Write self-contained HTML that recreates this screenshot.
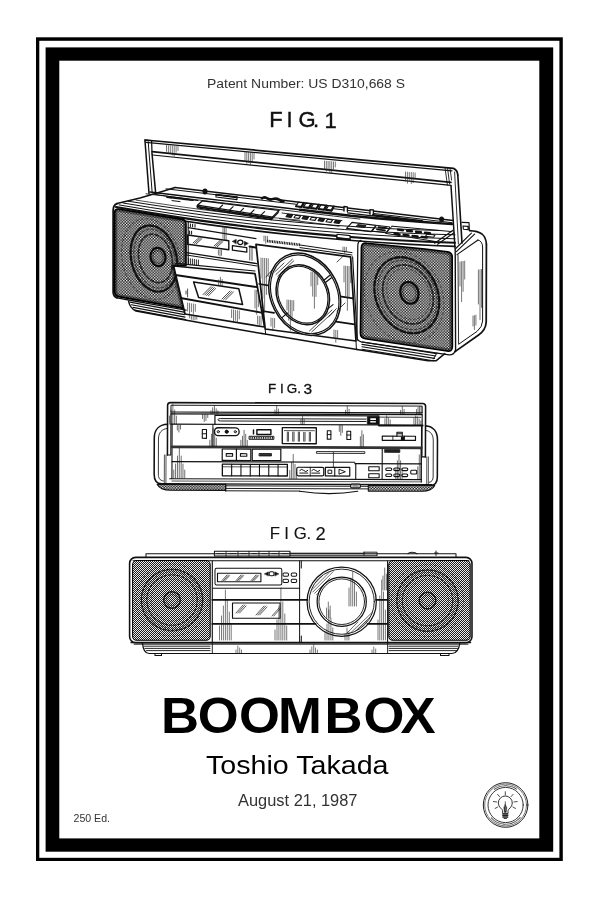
<!DOCTYPE html>
<html lang="en">
<head>
<meta charset="utf-8">
<title>Boombox Patent Print</title>
<style>
html,body{margin:0;padding:0;background:#fff;}
body{width:600px;height:900px;overflow:hidden;font-family:"Liberation Sans",sans-serif;}
svg{display:block;will-change:transform;}
.ln{fill:none;stroke:#111;stroke-width:1;stroke-linecap:round;stroke-linejoin:round;}
.t{font-family:"Liberation Sans",sans-serif;}
</style>
</head>
<body>
<svg width="600" height="900" viewBox="0 0 600 900">
<defs>
<pattern id="grille" width="2.8" height="2.8" patternUnits="userSpaceOnUse">
<rect width="2.8" height="2.8" fill="#0c0c0c"/>
<rect x="0" y="0" width="1.34" height="1.34" fill="#fff"/><rect x="1.4" y="1.4" width="1.34" height="1.34" fill="#fff"/>
</pattern>
<pattern id="grille2" width="2" height="2" patternUnits="userSpaceOnUse">
<rect width="2" height="2" fill="#1c1c1c"/>
<rect x="0" y="0" width="1" height="1" fill="#ececec"/><rect x="1" y="1" width="1" height="1" fill="#ececec"/>
</pattern>
<pattern id="hatch" width="2" height="2" patternUnits="userSpaceOnUse">
<rect width="2" height="2" fill="#fff"/><path d="M0 2L2 0" stroke="#111" stroke-width="0.9"/>
</pattern>
</defs>
<g id="frame">
<rect x="0" y="0" width="600" height="900" fill="#fff"/>
<rect x="36" y="37.3" width="526.8" height="823.7" fill="#000"/>
<rect x="39.3" y="40.8" width="520.1" height="817" fill="#fff"/>
<rect x="45.6" y="47.4" width="507.6" height="804.3" fill="#000"/>
<rect x="59.3" y="60.7" width="480" height="777.7" fill="#fff"/>
</g>
<defs><clipPath id="clipL"><path d="M118.4 209.0Q114.6 208.8 114.6 213L114.6 291.4Q114.8 295.8 118.6 296.6L183.6 308.4L173.6 266L186 265.6L186 224Q186 220.4 182.6 219.4L165.0 216.7L150.0 214.3L135.0 211.8Z"/></clipPath><clipPath id="clipR"><path d="M367 243.2Q361.4 242.4 361.4 247.6L360.4 333Q360.4 338 365.4 338.8L447 351Q452.4 351.8 452.4 346.6L452.2 257Q452.2 252.6 447.4 251.8L425 249Z"/></clipPath></defs>
<g id="fig1" class="ln">
<path d="M145.0 141.0L149.0 193.4" stroke-width="1.50" />
<path d="M148.2 141.6L152.2 193.0" stroke-width="1.00" />
<path d="M152.0 153.6L155.6 192.4" stroke-width="1.50" />
<path d="M145.0 140.0L453.5 168.4Q457.4 170 457.8 175" stroke-width="1.75" />
<path d="M146.0 142.4L452.0 170.8" stroke-width="1.25" />
<path d="M152.0 151.6L451.0 182.4" stroke-width="1.62" />
<path d="M152.6 155.0L451.0 185.4" stroke-width="1.25" />
<path d="M145.0 141.0L145.4 140.0L151.6 140.6L152.0 153.0" stroke-width="1.25" />
<path d="M457.8 175.0L462.0 243.0" stroke-width="1.62" />
<path d="M451.0 185.8L455.0 248.0" stroke-width="1.50" />
<path d="M454.6 172.0L458.4 244.0" stroke-width="0.88" />
<path d="M445.0 167.6L447.4 185.0M447.5 167.8L449.6 184.0M450.0 168.1L451.6 180.0" stroke-width="0.88" />
<path d="M166.5 145.4V151.4M168.4 145.6V153.6M170.3 145.8V152.8M172.3 146.0V155.0M174.2 146.1V156.1M176.1 146.3V152.3M178.0 146.5V150.5" stroke-width="0.62" stroke="#222"/>
<path d="M245.0 152.2V161.2M246.8 152.4V163.4M248.6 152.5V162.5M250.4 152.7V164.7M252.2 152.8V161.8M254.0 153.0V159.0" stroke-width="0.62" stroke="#222"/>
<path d="M324.5 161.1V169.1M326.3 161.2V171.2M328.1 161.4V170.4M329.9 161.5V173.5M331.7 161.7V172.7M333.5 161.9V168.9M335.3 162.0V167.0" stroke-width="0.62" stroke="#222"/>
<path d="M405.5 172.0V181.0M407.4 172.2V183.2M409.3 172.4V180.4M411.3 172.5V183.5M413.2 172.7V182.7M415.1 172.9V178.9" stroke-width="0.62" stroke="#222"/>
<path d="M117.0 203.6L140.0 198.0L163.0 191.2L175.0 187.5" stroke-width="1.50" />
<path d="M175.0 187.5L244.5 195.7L314.0 204.0L383.5 212.2L453.0 220.4" stroke-width="1.50" />
<path d="M166.0 188.8L237.5 197.3L309.0 205.8L380.5 214.3L452.0 222.7" stroke-width="1.00" />
<path d="M150.0 192.0L175.0 195.0L200.0 198.0L225.0 200.9L250.0 203.9L275.0 206.8L300.0 209.8" stroke-width="1.38" />
<path d="M300.0 209.8L325.3 212.8L350.7 215.8L376.0 218.2L401.3 220.2L426.7 222.2L452.0 224.1" stroke-width="2.38" />
<path d="M146.0 193.8L172.8 196.9L199.5 200.1L226.2 203.3L253.0 206.4L279.8 209.6L306.5 212.8L333.2 216.0L360.0 219.1" stroke-width="0.88" />
<path d="M117 203.6Q113.2 205 113.2 210V292Q113.2 296.6 117 297.8" stroke-width="1.88" />
<path d="M116.0 207.0L144.2 211.9L172.5 216.4L200.8 220.6L229.0 224.4L257.2 227.9L285.5 231.1L313.8 233.9L342.0 236.4L370.2 238.5L398.5 240.3L426.8 241.7L455.0 242.8" stroke-width="2.12" />
<path d="M186.0 221.3L208.4 224.6L230.8 227.6L253.2 230.5L275.7 233.1L298.1 235.5L320.5 237.7L342.9 239.7L365.3 241.5L387.8 243.0L410.2 244.4L432.6 245.5L455.0 246.4" stroke-width="1.62" />
<path d="M119.0 204.9L147.0 209.6L175.0 214.0L203.0 218.0L231.0 221.6L259.0 225.0L287.0 228.0L315.0 230.6L343.0 232.9L371.0 234.9L399.0 236.5L427.0 237.8L455.0 238.8" stroke-width="1.00" />
<path d="M123.0 203.0L150.7 207.5L178.3 211.6L206.0 215.4L233.7 218.9L261.3 222.1L289.0 224.9L316.7 227.4L344.3 229.5L372.0 231.4L399.7 232.8L427.3 234.0L455.0 234.8" stroke-width="1.00" />
<path d="M128.0 201.2L154.0 205.2L180.0 209.0L206.0 212.5L232.0 215.6L258.0 218.5L284.0 221.1L310.0 223.4L336.0 225.4L362.0 227.1L388.0 228.6L414.0 229.7L440.0 230.5" stroke-width="1.00" />
<path d="M136.0 200.1L149.7 202.2L163.3 204.2L177.0 206.2L190.7 208.1L204.3 209.9L218.0 211.6L231.7 213.2L245.3 214.8L259.0 216.2L272.7 217.6L286.3 218.9L300.0 220.2" stroke-width="0.75" />
<path d="M155.0 194.4L198.0 200.6" stroke-width="1.00" />
<path d="M434.6 243.2L453.0 230.2M437.6 244.2L454.0 232.8" stroke-width="1.12" />
<path d="M462.0 222.4L469.0 222.6L469.4 230.0M463.0 226.0L468.0 226.4L468.2 229.6L463.4 229.2Z" stroke-width="1.12" />
<path d="M469.4 230.6Q478 231 482 234Q486 237.4 486.4 244" stroke-width="1.62" />
<path d="M486.4 244L486.2 322Q485.8 330 478.6 335L455.0 351.6" stroke-width="1.75" />
<path d="M478 240Q482.4 241 482.6 247L482.6 321Q482.4 327 477 331.4L459.0 344.0" stroke-width="1.00" />
<path d="M455.2 249.0L471.4 233.2M456.4 251.6L474.6 234.2M457.0 254.6L478.0 240.0" stroke-width="1.12" />
<path d="M455.2 249.0L455.6 351.6" stroke-width="1.38" />
<path d="M458.0 255.0L458.6 344.0" stroke-width="0.88" />
<path d="M460.0 262.0V286.0M461.6 261.7V301.7M463.1 261.4V291.4M464.7 261.1V279.1" stroke-width="0.62" stroke="#222"/>
<path d="M478.4 270.0V304.0M480.0 269.7V319.7M481.5 269.4V307.4" stroke-width="0.62" stroke="#222"/>
<path d="M473.0 316.0V326.0M474.4 315.6V329.6M475.9 315.1V325.1" stroke-width="0.62" stroke="#222"/>
<path d="M167.0 197.2L193.0 200.2" stroke-width="1.75" stroke-dasharray="5 1.2 9 1.2"/>
<path d="M172.0 200.6L180.0 201.6" stroke-width="1.00" />
<ellipse cx="205" cy="191.4" rx="1.9" ry="2.4" transform="rotate(0 205 191.4)" stroke-width="1.25" fill="#111"/>
<path d="M216.0 194.6L237.0 197.2L237.0 199.6L216.0 197.0Z" stroke-width="1.12" />
<path d="M216.0 194.6L237.0 197.2" stroke-width="1.88" />
<path d="M262 198.4Q264 196.2 267 198.2Q270 200.6 273 199Q276 197.6 279 199.6Q282 201.6 283.4 201.6" stroke-width="2.50" />
<path d="M202.5 200.8L279.0 210.4L272.6 217.0L197.4 205.2Z" stroke-width="1.25" />
<path d="M197.4 205.2L197.4 207.8L271.4 219.6L272.6 217.0" stroke-width="1.25" />
<path d="M271.4 219.6L278.0 212.8L279.0 210.4" stroke-width="1.12" />
<path d="M197.4 206.6L272.0 218.4" stroke-width="1.75" />
<path d="M222.6 205.0L219.0 208.6L219.0 211.2" stroke-width="1.12" />
<path d="M233.1 206.6L229.5 210.2L229.5 212.8" stroke-width="1.12" />
<path d="M243.6 208.3L240.0 211.9L240.0 214.5" stroke-width="1.12" />
<path d="M254.1 209.9L250.5 213.5L250.5 216.1" stroke-width="1.12" />
<path d="M264.6 211.6L261.0 215.2L261.0 217.8" stroke-width="1.12" />
<path d="M298.4 202.2L303.8 202.9L301.4 207.0L296.0 206.3Z" stroke-width="1.12" fill="#fff"/>
<path d="M296.0 206.3L301.4 207.0L303.8 202.9" stroke-width="2.12" />
<path d="M305.9 203.1L311.3 203.8L308.9 207.9L303.5 207.2Z" stroke-width="1.12" fill="#fff"/>
<path d="M303.5 207.2L308.9 207.9L311.3 203.8" stroke-width="2.12" />
<path d="M313.4 204.0L318.8 204.7L316.4 208.8L311.0 208.1Z" stroke-width="1.12" fill="#fff"/>
<path d="M311.0 208.1L316.4 208.8L318.8 204.7" stroke-width="2.12" />
<path d="M320.9 204.9L326.3 205.6L323.9 209.7L318.5 209.0Z" stroke-width="1.12" fill="#fff"/>
<path d="M318.5 209.0L323.9 209.7L326.3 205.6" stroke-width="2.12" />
<path d="M328.4 205.8L333.8 206.5L331.4 210.6L326.0 209.9Z" stroke-width="1.12" fill="#fff"/>
<path d="M326.0 209.9L331.4 210.6L333.8 206.5" stroke-width="2.12" />
<path d="M287.6 214.2L292.6 214.9L291.0 217.4L286.0 216.7Z" stroke-width="1.12" fill="#222"/>
<path d="M295.6 215.2L300.6 215.9L299.0 218.4L294.0 217.7Z" stroke-width="1.12" />
<path d="M303.6 216.2L308.6 216.9L307.0 219.4L302.0 218.7Z" stroke-width="1.12" fill="#222"/>
<path d="M311.6 217.2L316.6 217.9L315.0 220.4L310.0 219.7Z" stroke-width="1.12" />
<path d="M319.6 218.2L324.6 218.9L323.0 221.4L318.0 220.7Z" stroke-width="1.12" fill="#222"/>
<path d="M327.6 219.2L332.6 219.9L331.0 222.4L326.0 221.7Z" stroke-width="1.12" />
<path d="M335.6 220.2L340.6 220.9L339.0 223.4L334.0 222.7Z" stroke-width="1.12" fill="#222"/>
<path d="M282.0 213.0L342.0 220.6M279.4 218.6L339.0 226.2" stroke-width="0.88" />
<path d="M344.0 211.1L344.0 206.5L347.4 206.9L347.4 211.5" stroke-width="1.38" fill="#fff"/>
<path d="M370.0 214.2L370.0 209.6L373.4 210.0L373.4 214.6" stroke-width="1.38" fill="#fff"/>
<path d="M373.0 215.2L422.0 221.2" stroke-width="2.50" />
<path d="M347.6 212.9L372.0 215.8" stroke-width="1.25" />
<ellipse cx="441.6" cy="219.2" rx="1.8" ry="2" transform="rotate(0 441.6 219.2)" stroke-width="1.25" fill="#111"/>
<path d="M337.0 234.2L350.0 235.6L350.0 239.4L337.0 238.0Z" stroke-width="1.12" fill="#fff"/>
<path d="M337.0 238.0L350.0 239.4" stroke-width="2.00" />
<path d="M352.0 222.4L376.0 225.4L371.0 231.6L346.6 228.4Z" stroke-width="1.12" />
<path d="M358.0 224.6L366.0 225.6L364.4 227.6L356.4 226.6Z" stroke-width="0.88" fill="#222"/>
<path d="M377.0 225.4L390.0 227.0L386.0 232.8L372.6 231.2Z" stroke-width="1.00" />
<path d="M378.6 227.2L386.6 228.2M377.0 229.4L385.0 230.4" stroke-width="1.75" />
<path d="M392.0 226.2L452.0 231.6M386.0 233.4L436.0 241.6" stroke-width="1.00" />
<path d="M392.0 226.2L386.0 233.4" stroke-width="1.00" />
<path d="M398.0 229.6L403.0 230.2" stroke-width="2.38" stroke="#111"/>
<path d="M407.0 230.7L412.0 231.2" stroke-width="2.38" stroke="#111"/>
<path d="M416.0 231.7L421.0 232.3" stroke-width="2.38" stroke="#111"/>
<path d="M425.0 232.8L430.0 233.3" stroke-width="2.38" stroke="#111"/>
<path d="M394.6 233.8L399.6 234.4" stroke-width="2.38" stroke="#111"/>
<path d="M403.6 234.8L408.6 235.4" stroke-width="2.38" stroke="#111"/>
<path d="M412.6 235.9L417.6 236.5" stroke-width="2.38" stroke="#111"/>
<path d="M421.6 236.9L426.6 237.5" stroke-width="2.38" stroke="#111"/>
<path d="M427.0 234.0L435.0 235.0L433.6 237.2L425.6 236.2Z" stroke-width="1.12" />
<path d="M118.4 209.0Q114.6 208.8 114.6 213L114.6 291.4Q114.8 295.8 118.6 296.6L183.6 308.4L173.6 266L186 265.6L186 224Q186 220.4 182.6 219.4L165.0 216.7L150.0 214.3L135.0 211.8Z" fill="url(#grille)" stroke="none"/>
<g clip-path="url(#clipL)">
<path d="M118.4 209.0Q114.6 208.8 114.6 213L114.6 291.4Q114.8 295.8 118.6 296.6L183.6 308.4L173.6 266L186 265.6L186 224Q186 220.4 182.6 219.4L165.0 216.7L150.0 214.3L135.0 211.8Z" stroke="#000" stroke-opacity="0.4" stroke-width="5.50"/>
<ellipse cx="154" cy="258.6" rx="22.6" ry="33.6" transform="rotate(-14 154 258.6)" stroke-width="2.38" stroke="#000" stroke-dasharray="4 2.2" stroke-opacity="0.85"/>
<ellipse cx="154.6" cy="258.6" rx="20" ry="30" transform="rotate(-14 154.6 258.6)" stroke-width="1.25" stroke="#000" stroke-dasharray="2.5 2.2" stroke-opacity="0.5"/>
<ellipse cx="155.4" cy="258.4" rx="16.4" ry="24.6" transform="rotate(-14 155.4 258.4)" stroke-width="1.75" stroke="#000" stroke-dasharray="3.5 2.2" stroke-opacity="0.7"/>
<ellipse cx="151" cy="259" rx="28.6" ry="41" transform="rotate(-14 151 259)" stroke-width="1.25" stroke="#000" stroke-dasharray="2 3" stroke-opacity="0.4"/>
<ellipse cx="158" cy="257" rx="7.4" ry="9.2" transform="rotate(-10 158 257)" stroke-width="2.25" stroke="#000" stroke-opacity="0.9"/>
<ellipse cx="158" cy="257" rx="5" ry="6.4" transform="rotate(-10 158 257)" stroke-width="1.12" stroke="#000" stroke-dasharray="1.5 1.2" stroke-opacity="0.5"/>
</g>
<path d="M118.4 209.0Q114.6 208.8 114.6 213L114.6 291.4Q114.8 295.8 118.6 296.6L183.6 308.4L173.6 266L186 265.6L186 224Q186 220.4 182.6 219.4L165.0 216.7L150.0 214.3L135.0 211.8Z" stroke="#000" stroke-width="1.62"/>
<path d="M367 243.2Q361.4 242.4 361.4 247.6L360.4 333Q360.4 338 365.4 338.8L447 351Q452.4 351.8 452.4 346.6L452.2 257Q452.2 252.6 447.4 251.8L425 249Z" fill="url(#grille)" stroke="none"/>
<g clip-path="url(#clipR)">
<path d="M367 243.2Q361.4 242.4 361.4 247.6L360.4 333Q360.4 338 365.4 338.8L447 351Q452.4 351.8 452.4 346.6L452.2 257Q452.2 252.6 447.4 251.8L425 249Z" stroke="#000" stroke-opacity="0.4" stroke-width="6.00"/>
<ellipse cx="406.8" cy="295.2" rx="30.7" ry="39.4" transform="rotate(-25 406.8 295.2)" stroke-width="2.38" stroke="#000" stroke-dasharray="5 2.4" stroke-opacity="0.85"/>
<ellipse cx="407.4" cy="295" rx="28" ry="36" transform="rotate(-25 407.4 295)" stroke-width="1.25" stroke="#000" stroke-dasharray="2.5 2.2" stroke-opacity="0.5"/>
<ellipse cx="408" cy="294.4" rx="24" ry="30.6" transform="rotate(-25 408 294.4)" stroke-width="1.88" stroke="#000" stroke-dasharray="4 2.2" stroke-opacity="0.7"/>
<ellipse cx="408.4" cy="294" rx="20.6" ry="26.4" transform="rotate(-25 408.4 294)" stroke-width="1.12" stroke="#000" stroke-dasharray="2 2.6" stroke-opacity="0.4"/>
<ellipse cx="404" cy="297" rx="38" ry="47" transform="rotate(-25 404 297)" stroke-width="1.25" stroke="#000" stroke-dasharray="2 3.4" stroke-opacity="0.35"/>
<ellipse cx="409.4" cy="292.8" rx="9" ry="11" transform="rotate(-18 409.4 292.8)" stroke-width="2.38" stroke="#000" stroke-opacity="0.9"/>
<ellipse cx="409.4" cy="292.8" rx="6.4" ry="8" transform="rotate(-18 409.4 292.8)" stroke-width="1.12" stroke="#000" stroke-dasharray="1.5 1.2" stroke-opacity="0.5"/>
</g>
<path d="M367 243.2Q361.4 242.4 361.4 247.6L360.4 333Q360.4 338 365.4 338.8L447 351Q452.4 351.8 452.4 346.6L452.2 257Q452.2 252.6 447.4 251.8L425 249Z" stroke="#000" stroke-width="1.62"/>
<path d="M361 240.4Q357.8 241 357.8 246L356.8 336.6Q356.8 341 361.2 341.8L449 354.8Q454 355 455 351" stroke-width="1.25" />
<path d="M188.2 221.6L188.2 263.4" stroke-width="1.12" />
<path d="M188.2 227.6L256.0 238.6" stroke-width="1.12" />
<path d="M190.4 224.0L190.4 226.6M192.6 224.2L192.6 226.8M195.0 224.6L195.0 227.2M189.6 231.0L189.6 234.0M191.6 231.2L191.6 234.2" stroke-width="1.00" />
<path d="M187.6 235.0L228.8 240.8L228.8 249.8L187.6 244.2Z" stroke-width="1.38" />
<path d="M193.0 243.0L199.0 237.6M194.6 243.4L200.6 238.0M196.2 243.8L202.0 238.6M214.0 246.0L220.0 240.6M215.6 246.4L221.6 241.0M217.2 246.8L223.0 241.6" stroke-width="0.75" />
<path d="M232.6 241.2L236.2 239.4V243.4Z" stroke-width="0.62" fill="#111"/>
<path d="M248 243.2L244.4 241.4V245.4Z" stroke-width="0.62" fill="#111"/>
<ellipse cx="240.3" cy="242.3" rx="2.6" ry="2.2" transform="rotate(0 240.3 242.3)" stroke-width="1.25" />
<path d="M232.4 245.6L246.8 247.6L246.8 252.2L232.4 250.2Z" stroke-width="1.25" />
<path d="M249.6 246.6L255.6 247.4" stroke-width="2.00" />
<path d="M186.4 252.6L256.6 263.6" stroke-width="1.25" />
<path d="M186.4 255.0L257.0 266.0" stroke-width="1.00" />
<path d="M223.0 227.4V238.4M224.6 227.6V240.6M226.1 227.8V239.8" stroke-width="0.62" stroke="#222"/>
<path d="M218.4 250.0V255.0M220.0 250.2V256.2M221.5 250.4V255.4" stroke-width="0.62" stroke="#222"/>
<path d="M249.8 247.4L249.8 260.0M252.0 247.8L252.0 260.4" stroke-width="0.75" />
<path d="M188.4 258.4L188.4 264.0M190.4 258.8L190.4 264.4M192.4 259.0L192.4 264.6M194.4 259.4L194.4 265.0M196.4 259.8L196.4 265.4M198.4 260.0L198.4 265.6" stroke-width="0.88" />
<path d="M176.0 263.4L255.0 271.0" stroke-width="1.12" />
<path d="M173.6 266.0L255.0 273.6L264.6 327.0L185.0 314.0Z" stroke-width="1.75" fill="#fff"/>
<path d="M175.4 275.0L256.4 287.0" stroke-width="1.88" />
<path d="M193.6 282.0L238.8 288.8L242.6 304.6L198.6 297.6Z" stroke-width="1.50" />
<path d="M203.0 294.6L211.0 286.6M204.8 295.0L212.8 287.0M206.6 295.4L214.4 287.6M208.4 295.8L215.6 288.6M222.0 299.0L230.0 291.0M223.8 299.4L231.8 291.4M225.6 299.8L233.4 292.0" stroke-width="0.75" />
<path d="M180.6 298.0L261.4 312.6" stroke-width="1.88" />
<path d="M187.6 303.0V311.0M189.5 303.3V314.3M191.4 303.7V311.7M193.4 304.0V314.0M195.3 304.3V311.3" stroke-width="0.62" stroke="#222"/>
<path d="M189.6 315.0V318.0M191.4 315.3V319.3M193.2 315.6V319.6M195.0 315.9V319.9M196.8 316.2V319.2" stroke-width="0.62" stroke="#222"/>
<path d="M231.6 309.6V317.6M233.5 309.9V321.9M235.4 310.3V320.3M237.4 310.6V322.6M239.3 310.9V318.9" stroke-width="0.62" stroke="#222"/>
<path d="M218.6 285.0V280.0M220.4 285.3V277.3M222.2 285.5V279.5" stroke-width="0.62" stroke="#222"/>
<path d="M255.0 290.0V308.0M256.7 290.3V314.3M258.4 290.7V306.7" stroke-width="0.62" stroke="#222"/>
<path d="M257.6 316.0V324.0M259.3 316.3V326.3M261.0 316.7V324.7" stroke-width="0.62" stroke="#222"/>
<path d="M186.0 294.0L186.0 291.0M187.6 297.0L187.6 289.0" stroke-width="0.75" />
<path d="M256.0 244.4L350.6 256.8L356.0 341.0L265.2 329.0Z" stroke-width="1.75" fill="#fff"/>
<path d="M267.0 241.0L300.0 244.8" stroke-width="2.75" stroke-dasharray="1 0.7" stroke-linecap="butt"/>
<path d="M300.0 245.0L352.0 252.6M300.0 247.6L352.0 255.0" stroke-width="1.00" />
<path d="M352.6 256.8L357.4 340.0" stroke-width="1.12" />
<path d="M259.2 284.0L269.6 285.6M340.0 296.4L353.0 298.4" stroke-width="1.75" />
<path d="M262.4 311.0L274.0 312.8M336.0 321.6L354.6 324.4" stroke-width="1.75" />
<ellipse cx="304.7" cy="294.3" rx="33.9" ry="42.8" transform="rotate(-27 304.7 294.3)" stroke-width="1.50" fill="#fff"/>
<ellipse cx="304.7" cy="294.3" rx="32.2" ry="41" transform="rotate(-27 304.7 294.3)" stroke-width="1.12" />
<ellipse cx="302.8" cy="294.7" rx="25.5" ry="31" transform="rotate(-27 302.8 294.7)" stroke-width="1.50" />
<ellipse cx="302.8" cy="294.7" rx="23.9" ry="29.4" transform="rotate(-27 302.8 294.7)" stroke-width="1.12" />
<path d="M276.0 274.4L292.4 259.2M277.8 276.0L293.8 260.8M279.4 277.6L290.0 267.6M274.6 272.0L284.0 263.0M309.4 331.0L332.0 310.0M311.6 332.0L334.0 311.4M328.6 317.0L336.4 308.6M318.0 321.0L327.0 312.6" stroke-width="0.75" />
<path d="M323.6 280.4L329.6 275.6M325.4 282.6L331.4 277.8" stroke-width="1.25" />
<path d="M282.0 317.6L287.4 313.0M327.0 309.6L333.0 304.6" stroke-width="1.12" />
<path d="M337.0 262.0L344.0 255.4M337.0 311.0L345.0 303.0M266.0 277.0L272.0 270.0" stroke-width="0.75" />
<path d="M261.0 258.0V278.0M262.8 258.2V298.2M264.6 258.4V312.4M266.4 258.5V294.5M268.2 258.7V276.7" stroke-width="0.62" stroke="#222"/>
<path d="M344.0 266.0V282.0M345.7 266.2V296.2M347.4 266.3V310.3M349.0 266.5V296.5M350.7 266.7V282.7" stroke-width="0.62" stroke="#222"/>
<path d="M311.0 272.0V286.0M312.7 272.2V296.2M314.4 272.3V308.3M316.0 272.5V296.5M317.7 272.7V284.7" stroke-width="0.62" stroke="#222"/>
<path d="M287.0 300.0V310.0M288.7 300.2V320.2M290.4 300.3V330.3M292.0 300.5V320.5M293.7 300.7V310.7" stroke-width="0.62" stroke="#222"/>
<path d="M271.0 318.0V326.0M272.8 318.3V330.3M274.6 318.5V327.5" stroke-width="0.62" stroke="#222"/>
<path d="M334.0 330.0V338.0M335.8 330.3V342.3M337.6 330.5V338.5" stroke-width="0.62" stroke="#222"/>
<path d="M264.0 236.0V241.0M265.7 236.2V243.2M267.4 236.3V241.3" stroke-width="0.62" stroke="#222"/>
<path d="M343.0 247.0V251.0M344.7 247.2V253.2M346.4 247.3V251.3" stroke-width="0.62" stroke="#222"/>
<path d="M117.0 297.9L134.2 301.0L151.5 304.1L168.8 307.1L186.0 310.1" stroke-width="1.38" />
<path d="M128.6 301Q129.6 308 136 311L170.0 317.3L210.0 324.5L262.0 333.6" stroke-width="1.50" />
<path d="M130.0 302.1L184.0 312.1" stroke-width="1.12" />
<path d="M131.4 304.7L184.4 314.6" stroke-width="1.12" />
<path d="M133.0 307.4L185.0 317.1" stroke-width="1.12" />
<path d="M134.8 310.1L185.6 319.6" stroke-width="1.12" />
<path d="M262.0 333.6L285.8 337.6L309.5 341.6L333.2 345.6L357.0 349.5" stroke-width="1.50" />
<path d="M265.2 329.0L265.6 334.1M356.0 341.0L356.4 349.3" stroke-width="1.00" />
<path d="M357.0 349.5L380.7 353.3L404.3 357.0L428.0 360.7L436.0 360.8L444.8 353.6" stroke-width="1.50" />
<path d="M362.0 342.0L437.0 353.6" stroke-width="1.12" />
<path d="M362.0 344.4L435.8 356.0" stroke-width="1.12" />
<path d="M362.0 346.8L434.6 358.4" stroke-width="1.12" />
<path d="M362.0 349.2L433.4 360.8" stroke-width="1.12" />
<path d="M436.8 353.0L433.4 359.0" stroke-width="1.00" />
</g>
<g id="fig3" class="ln" transform="rotate(0.2 167 403)">
<path d="M167.6 455V405.6Q167.6 402.6 170.6 402.6H422.6Q425.6 402.6 425.6 405.6V456" stroke-width="1.56"/>
<path d="M171 412V405.2H422.2V412" stroke-width="0.96"/>
<path d="M171 412H422.2M171 413.8H422.2" stroke-width="1.20"/>
<path d="M171 413.8V455M167.6 455H171M422.2 413.8V456M422.2 456H425.6" stroke-width="1.08"/>
<path d="M215 424V415.2H379" stroke-width="1.20"/>
<path d="M366 418.4H220.4Q218 418.4 218 419.6Q218 420.8 220.4 420.8H366" stroke-width="0.96"/>
<rect x="367.8" y="416" width="11.4" height="7.4" fill="#111" stroke-width="0.96"/>
<rect x="370.4" y="417.6" width="5.6" height="1.6" fill="#fff" stroke="none"/><rect x="370.4" y="420.4" width="5.6" height="1.4" fill="#fff" stroke="none"/>
<path d="M379.2 416.4H421" stroke-width="0.84"/>
<path d="M171 424.2H379" stroke-width="1.20"/>
<path d="M379 424.6H422.6" stroke-width="2.16"/>
<path d="M167.6 424.2C159 424.6 154.4 430 154.4 438V474C154.4 480 157 483.8 162 483.8" stroke-width="1.56"/>
<path d="M167.6 428.4C161.6 429 158.6 433 158.6 439V474C158.6 478 160 480.6 163.6 481" stroke-width="0.84"/>
<path d="M425.6 425C433.4 425.4 437.6 431 437.6 439V476C437.6 481 435.4 484.4 430.6 484.6" stroke-width="1.56"/>
<path d="M425.6 429.4C431 430 433.4 434 433.4 440V476C433.4 479 432 481 429.6 481.4" stroke-width="0.84"/>
<path d="M164.6 455V483M166.2 455V483M428.6 456V483.6M427 456V483.6" stroke-width="0.72"/>
<path d="M172.2 424.2V478.6M421.6 425V481" stroke-width="1.08"/>
<path d="M172.2 446.9H421.6" stroke-width="2.76" stroke="#333"/>
<path d="M172.2 461.6H355M355 463H421.6" stroke-width="1.08"/>
<path d="M170 478.7H421.6" stroke-width="1.08"/>
<path d="M160 483.8H432" stroke-width="1.32"/>
<path d="M172.2 481H421.6" stroke-width="0.72"/>
<path d="M157.4 484.2H226V490.2H171C164 490.2 159.6 488.6 157.4 484.2Z" fill="url(#grille)" stroke-width="1.08"/>
<path d="M368.6 484.6H435C433 488.8 429 490.4 422 490.4H368.6Z" fill="url(#grille)" stroke-width="1.08"/>
<path d="M226 485.6H368.6M226 488.2H368.6M226 490.6H300M226 484V491" stroke-width="0.96"/>
<path d="M300 490.8Q330 495.4 358 490.6" stroke-width="1.20"/>
<rect x="351" y="483.4" width="9.6" height="3.8" rx="1.2" fill="#fff" stroke-width="1.20"/>
<path d="M353 485.3H358.6" stroke-width="0.84"/>
<rect x="202.4" y="429.4" width="4.2" height="8.8" stroke-width="1.08"/><path d="M202.4 433.6H206.6" stroke-width="0.96"/>
<path d="M213 424.2V446" stroke-width="0.96"/>
<rect x="214.6" y="427.6" width="24.6" height="7.8" rx="3.6" stroke-width="1.32"/>
<circle cx="218.4" cy="431.5" r="1.1" stroke-width="0.96"/><circle cx="235.4" cy="431.5" r="1.1" stroke-width="0.96"/><circle cx="226.8" cy="431.5" r="1.6" fill="#111" stroke-width="0.96"/>
<path d="M253.6 429.6V433.6" stroke-width="1.44"/>
<rect x="257" y="429.4" width="14" height="4.8" stroke-width="1.44"/>
<rect x="249.6" y="436" width="24.4" height="3" stroke-width="0.96"/><path d="M250.5 437.5H273.5" stroke-width="1.68" stroke-dasharray="1 0.8" stroke-linecap="butt"/>
<rect x="282.4" y="427.2" width="34" height="16" stroke-width="1.32"/>
<path d="M284.5 430.2H314.5" stroke-width="0.72"/>
<path d="M288 431.4V441M293.5 431.4V441M299 431.4V441M304.5 431.4V441M310 431.4V441" stroke-width="2.04" stroke-linecap="butt"/>
<path d="M288 431.4V441M293.5 431.4V441M299 431.4V441M304.5 431.4V441M310 431.4V441" stroke="#fff" stroke-width="0.60" stroke-linecap="butt"/>
<rect x="327.4" y="430.2" width="3.6" height="8.4" stroke-width="1.08"/><path d="M327.4 434H331" stroke-width="0.96"/>
<rect x="347" y="430.6" width="3.8" height="8.2" stroke-width="1.08"/><path d="M347 434.4H350.8" stroke-width="0.96"/>
<rect x="382.4" y="435.4" width="33.2" height="4.2" stroke-width="1.20"/>
<path d="M393 435.4V439.6M404.6 435.4V439.6" stroke-width="0.84"/><rect x="401" y="436" width="3.6" height="3.2" fill="#111" stroke="none"/>
<path d="M397 435.4V431.4H402.4V435.4M397 433H402.4" stroke-width="1.08"/>
<rect x="222.4" y="448.8" width="28.6" height="11.4" stroke-width="1.20"/><path d="M236.6 448.8V460.2" stroke-width="1.20"/>
<rect x="226.4" y="453.4" width="6.4" height="2.6" stroke-width="1.08"/><rect x="240.6" y="453.4" width="6.4" height="2.6" stroke-width="1.08"/>
<rect x="252.4" y="448.8" width="28.6" height="11.4" stroke-width="1.20"/>
<rect x="259.6" y="453.2" width="12" height="2.4" fill="#333" stroke-width="0.84"/>
<path d="M317 451H365V452.8H317Z" stroke-width="0.84"/>
<rect x="385" y="448.8" width="15" height="2.8" fill="#222" stroke-width="0.72"/>
<path d="M382.4 447.7V478.7" stroke-width="1.08"/>
<rect x="222.6" y="464" width="65" height="11.6" stroke-width="1.32"/>
<path d="M231.9 464V475.6M241.2 464V475.6M250.5 464V475.6M259.7 464V475.6M269.0 464V475.6M278.3 464V475.6" stroke-width="1.08"/>
<path d="M222.6 466.6H287.6" stroke-width="0.72"/>
<rect x="297" y="466.8" width="27" height="8.6" rx="1.5" stroke-width="1.20"/>
<path d="M300 470Q302 467.6 304 470Q306 472.4 308 470M312 470Q314 467.6 316 470Q318 472.4 320 470M300 472.6H308M312 472.6H320" stroke-width="0.96"/>
<path d="M310.5 466.8V475.4" stroke-width="0.84"/>
<rect x="325.6" y="466.8" width="24.4" height="8.6" stroke-width="1.20"/><path d="M335 466.8V475.4" stroke-width="1.08"/>
<rect x="328.6" y="469.6" width="3.4" height="3.2" stroke-width="0.96"/><path d="M339.6 468.8L345.6 471.1L339.6 473.4Z" stroke-width="0.96"/>
<path d="M333.6 451.8V466.8" stroke-width="0.72"/>
<path d="M356 463V478.7" stroke-width="1.08"/>
<rect x="369" y="466" width="10.4" height="4" stroke-width="1.08"/><rect x="369" y="473" width="10.4" height="4" stroke-width="1.08"/>
<rect x="386" y="467.2" width="6" height="2.6" rx="1.3" stroke-width="1.08"/>
<rect x="386" y="473.2" width="6" height="2.6" rx="1.3" stroke-width="1.08"/>
<rect x="394" y="467.2" width="6" height="2.6" rx="1.3" stroke-width="1.08"/>
<rect x="394" y="473.2" width="6" height="2.6" rx="1.3" stroke-width="1.08"/>
<rect x="402" y="467.2" width="6" height="2.6" rx="1.3" stroke-width="1.08"/>
<rect x="402" y="473.2" width="6" height="2.6" rx="1.3" stroke-width="1.08"/>
<rect x="411" y="469.4" width="6" height="3.8" rx="1" stroke-width="1.08"/>
<path d="M169.5 424.0V416.0M171.2 424.0V410.0M172.9 424.0V404.0M174.7 424.0V410.0M176.4 424.0V416.0" stroke-width="0.60"/>
<path d="M211.0 413.6V410.6M212.7 413.6V407.6M214.4 413.6V405.6M216.2 413.6V408.6M217.9 413.6V410.6" stroke-width="0.60"/>
<path d="M174.0 478.0V470.0M175.8 478.0V464.0M177.7 478.0V456.0M179.5 478.0V448.0M181.4 478.0V456.0M183.2 478.0V464.0M185.0 478.0V470.0" stroke-width="0.60"/>
<path d="M210.0 446.0V440.0M211.6 446.0V434.0M213.2 446.0V428.0M214.8 446.0V432.0M216.4 446.0V438.0" stroke-width="0.60"/>
<path d="M241.0 446.0V440.0M242.6 446.0V436.0M244.2 446.0V430.0M245.8 446.0V434.0M247.4 446.0V440.0" stroke-width="0.60"/>
<path d="M275.0 413.6V409.6M276.7 413.6V405.6M278.4 413.6V408.6" stroke-width="0.60"/>
<path d="M345.6 413.6V409.6M347.3 413.6V405.6M349.1 413.6V408.6" stroke-width="0.60"/>
<path d="M400.6 413.6V409.6M402.3 413.6V405.6M404.1 413.6V408.6" stroke-width="0.60"/>
<path d="M385.0 424.0V418.0M386.7 424.0V415.0M388.4 424.0V417.0M390.2 424.0V419.0" stroke-width="0.60"/>
<path d="M414.0 424.0V417.0M415.7 424.0V415.0M417.4 424.0V416.0M419.2 424.0V418.0M420.9 424.0V420.0" stroke-width="0.60"/>
<path d="M360.5 446.0V436.0M362.0 446.0V430.0M363.5 446.0V434.0" stroke-width="0.60"/>
<path d="M339.4 424.8V430.8M340.9 424.8V434.8M342.4 424.8V431.8" stroke-width="0.60"/>
<path d="M396.0 478.0V468.0M397.6 478.0V460.0M399.2 478.0V454.0M400.8 478.0V460.0M402.4 478.0V468.0" stroke-width="0.60"/>
<path d="M290.0 478.0V470.0M291.7 478.0V462.0M293.4 478.0V454.0M295.2 478.0V464.0M296.9 478.0V472.0" stroke-width="0.60"/>
<path d="M418.0 478.0V466.0M419.5 478.0V454.0M421.0 478.0V448.0" stroke-width="0.60"/>
<path d="M202.6 414.4V418.4M204.3 414.4V421.4M206.0 414.4V420.4M207.8 414.4V417.4" stroke-width="0.60"/>
<path d="M177.4 425.0V430.0M179.0 425.0V432.0M180.6 425.0V429.0" stroke-width="0.60"/>
<path d="M301.0 424.0V419.0M302.6 424.0V416.0M304.2 424.0V419.0" stroke-width="0.60"/>
<path d="M416.6 413.6V408.6M418.1 413.6V406.6M419.6 413.6V405.6M421.1 413.6V405.6" stroke-width="0.60"/>
</g>
<defs><clipPath id="cdring2"><path clip-rule="evenodd" d="M341.7 569.2a32.5 32.5 0 1 0 0.01 0ZM341.7 577.2a24.5 24.5 0 1 1 -0.01 0Z"/></clipPath></defs>
<g id="fig2" class="ln">
<path d="M146 557.3V553.8H456V557.3" stroke-width="1.01"/>
<rect x="214.4" y="551.3" width="75.6" height="4.6" stroke-width="1.01"/>
<path d="M226 551.3V556M238 551.3V556M249 551.3V556M259 551.3V556M269 551.3V556M279 551.3V556" stroke-width="0.78"/>
<path d="M217 553.6H224M229 553.6H236M241 553.6H247M252 553.6H257M262 553.6H267M272 553.6H277M282 553.6H288" stroke-width="0.67"/>
<path d="M290 553.2H364M290 555.3H377M364 552.2H377V555.3M364 552.2V555.3" stroke-width="0.90"/>
<path d="M408 553.8C409 551.8 415 551.8 417 553.8" stroke-width="1.01"/>
<path d="M436 551V555.5M434.5 553H438" stroke-width="0.90"/>
<rect x="129.6" y="557.4" width="342.4" height="85.2" rx="6" ry="6" stroke-width="1.57"/>
<path d="M133 560.8H469" stroke-width="1.01"/>
<rect x="132.6" y="560.6" width="77.6" height="79.6" rx="4" fill="url(#grille2)" stroke="#000" stroke-width="1.01"/>
<rect x="388.8" y="560.6" width="81.4" height="79.6" rx="4" fill="url(#grille2)" stroke="#000" stroke-width="1.01"/>
<circle cx="172" cy="600" r="36" stroke="#000" stroke-opacity="0.4" stroke-width="1.01" stroke-dasharray="1.5 3.4"/>
<circle cx="172" cy="600" r="30.6" stroke="#000" stroke-opacity="0.75" stroke-width="1.57" stroke-dasharray="2.2 2"/>
<circle cx="172" cy="600" r="28.2" stroke="#000" stroke-opacity="0.45" stroke-width="1.01" stroke-dasharray="1.6 2"/>
<circle cx="172" cy="600" r="25.2" stroke="#000" stroke-opacity="0.7" stroke-width="1.34" stroke-dasharray="2.4 2"/>
<circle cx="172" cy="600" r="21" stroke="#000" stroke-opacity="0.35" stroke-width="1.01" stroke-dasharray="1.6 2.4"/>
<circle cx="172" cy="600" r="8.3" stroke="#000" stroke-opacity="0.8" stroke-width="1.46"/>
<circle cx="172" cy="600" r="5.6" stroke="#000" stroke-opacity="0.4" stroke-width="1.01" stroke-dasharray="1.5 1.4"/>
<circle cx="427.5" cy="600.6" r="36" stroke="#000" stroke-opacity="0.4" stroke-width="1.01" stroke-dasharray="1.5 3.4"/>
<circle cx="427.5" cy="600.6" r="30.6" stroke="#000" stroke-opacity="0.75" stroke-width="1.57" stroke-dasharray="2.2 2"/>
<circle cx="427.5" cy="600.6" r="28.2" stroke="#000" stroke-opacity="0.45" stroke-width="1.01" stroke-dasharray="1.6 2"/>
<circle cx="427.5" cy="600.6" r="25.2" stroke="#000" stroke-opacity="0.7" stroke-width="1.34" stroke-dasharray="2.4 2"/>
<circle cx="427.5" cy="600.6" r="21" stroke="#000" stroke-opacity="0.35" stroke-width="1.01" stroke-dasharray="1.6 2.4"/>
<circle cx="427.5" cy="600.6" r="8.3" stroke="#000" stroke-opacity="0.8" stroke-width="1.46"/>
<circle cx="427.5" cy="600.6" r="5.6" stroke="#000" stroke-opacity="0.4" stroke-width="1.01" stroke-dasharray="1.5 1.4"/>
<path d="M212.3 561V642M387.6 561V642" stroke-width="1.12"/>
<path d="M299.6 561V642M301.3 561V568M301.3 636V642" stroke-width="1.01"/>
<rect x="215" y="568.3" width="66.8" height="16.8" rx="1.6" stroke-width="1.01"/>
<rect x="217.5" y="573.2" width="43.4" height="8.6" stroke-width="1.12"/>
<path d="M222 580.6L227 575M223.5 580.6L228.5 575M225 580.6L229.6 575.6M236 580.6L241 575M237.5 580.6L242.5 575M239 580.6L243.6 575.6M251 580.6L256 575M252.5 580.6L257.5 575M254 580.6L258.6 575.6" stroke-width="0.67"/>
<path d="M264.6 573.8L268.4 571.9V575.7Z" fill="#111" stroke-width="0.56"/>
<path d="M278.6 573.8L274.8 571.9V575.7Z" fill="#111" stroke-width="0.56"/>
<rect x="269.2" y="571.8" width="4.8" height="4" rx="1.5" stroke-width="1.01"/>
<rect x="283" y="573" width="5.5" height="3.3" rx="1.2" stroke-width="1.01"/>
<rect x="291.2" y="573" width="5.5" height="3.3" rx="1.2" stroke-width="1.01"/>
<rect x="283" y="579.2" width="5.5" height="3.3" rx="1.2" stroke-width="1.01"/>
<rect x="291.2" y="579.2" width="5.5" height="3.3" rx="1.2" stroke-width="1.01"/>
<path d="M213 588.3H299.6" stroke-width="1.01"/>
<path d="M212.3 599.8H307.4M375.9 599.8H387.6" stroke-width="1.68"/>
<path d="M212.3 623.9H315.6M367.6 623.9H387.6" stroke-width="1.68"/>
<rect x="232.5" y="603" width="47.6" height="15.3" stroke-width="1.12"/>
<path d="M236 613L243 605M237.8 613L244.8 605M239.6 613L246 606M256 615L264 606M257.8 615L265.8 606M259.6 615L267 607M272 616L279 608M273.8 616L280 609" stroke-width="0.67"/>
<circle cx="341.7" cy="601.7" r="34.6" stroke-width="1.23"/>
<circle cx="341.7" cy="601.7" r="32.6" stroke-width="0.90"/>
<circle cx="341.7" cy="601.7" r="24.6" stroke-width="1.23"/>
<circle cx="341.7" cy="601.7" r="22.8" stroke-width="0.90"/>
<path d="M311 590.6L331.6 570M312.8 592L333.2 571.6M314.6 593.4L330 578M316.4 594.8L328 583.2M309.6 588.6L322 576.2M348.4 635L373 611.6M350.4 636L374.4 613M352.6 636.6L370 620M355 632L367 620.6M346.6 633.4L358 622" stroke-width="0.62" clip-path="url(#cdring2)"/>
<path d="M219.5 640.0V626.0M221.5 640.0V616.0M223.4 640.0V606.0M225.4 640.0V590.0M227.3 640.0V600.0M229.3 640.0V612.0M231.2 640.0V624.0" stroke-width="0.56"/>
<path d="M275.0 640.0V630.0M277.0 640.0V620.0M278.9 640.0V606.0M280.9 640.0V588.0M282.8 640.0V602.0M284.8 640.0V614.0M286.7 640.0V626.0" stroke-width="0.56"/>
<path d="M236.0 653.0V650.0M237.8 653.0V646.0M239.7 653.0V648.0M241.5 653.0V650.0" stroke-width="0.56"/>
<path d="M310.0 653.0V650.0M311.8 653.0V647.0M313.7 653.0V645.0M315.5 653.0V648.0M317.4 653.0V650.0" stroke-width="0.56"/>
<path d="M372.0 653.0V650.0M373.8 653.0V647.0M375.7 653.0V649.0" stroke-width="0.56"/>
<path d="M325.0 640.0V632.0M327.0 640.0V624.0M328.9 640.0V610.0M330.9 640.0V618.0M332.8 640.0V628.0" stroke-width="0.56"/>
<path d="M345.0 640.0V634.0M347.0 640.0V628.0M348.9 640.0V632.0" stroke-width="0.56"/>
<path d="M378.0 640.0V620.0M379.8 640.0V596.0M381.7 640.0V580.0M383.5 640.0V592.0M385.4 640.0V610.0" stroke-width="0.56"/>
<path d="M349.0 606.0V588.0M350.8 606.0V578.0M352.7 606.0V572.0M354.5 606.0V582.0M356.4 606.0V592.0" stroke-width="0.56"/>
<path d="M326.5 618.0V608.0M328.3 618.0V602.0M330.2 618.0V606.0" stroke-width="0.56"/>
<path d="M383.0 590.0V576.0M384.7 590.0V568.0M386.4 590.0V574.0" stroke-width="0.56"/>
<path d="M131 642.6H470.6" stroke-width="1.34"/>
<path d="M134 644.2H468" stroke-width="0.90"/>
<path d="M142.4 642.6C143 649 144.5 653.5 149 653.5H452C457 653.5 459 649 460 642.6" stroke-width="1.23"/>
<path d="M144 646.2H210M145 648.4H210M146.5 650.6H210M212.3 642.6V653.5" stroke-width="0.90"/>
<path d="M389 646.2H458M389 648.4H457.5M389 650.6H456.5M387.6 642.6V653.5" stroke-width="0.90"/>
<path d="M155 653.8V655.6H161.5V653.8M440.5 653.8V655.6H449V653.8" stroke-width="1.01"/>
</g>
<g id="labels" class="t">
<text x="207" y="87.6" font-size="13.7" fill="#333" textLength="198" lengthAdjust="spacingAndGlyphs">Patent Number: US D310,668 S</text>
<text x="269.3 286.4 298.5 313 319 324.4" y="126.7 126.7 126.7 126.7 126.7 127.6" font-size="22" fill="#111" stroke="#111" stroke-width="0.4">FIG. 1</text>
<text y="393.4" font-size="13.4" fill="#111" stroke="#111" stroke-width="0.3"><tspan x="268 280.1 286.8 297.2 300">FIG. </tspan><tspan x="303.4" y="394.4" font-size="15.4">3</tspan></text>
<text y="538.7" font-size="16.8" fill="#111" stroke="#111" stroke-width="0.12"><tspan x="269.8 284.3 293.8 306.6 311">FIG. </tspan><tspan x="315.6" y="540.2" font-size="18.4">2</tspan></text>
<text transform="scale(1.045 1)" x="154.08 189.13 228.75 266.09 310.45 347.89 383.19" y="733" font-size="50.4" font-weight="bold" fill="#000">BOOMBOX</text>
<text x="206" y="774" font-size="25.2" fill="#000" textLength="182.5" lengthAdjust="spacingAndGlyphs">Toshio Takada</text>
<text x="238" y="805.5" font-size="16.3" fill="#333" textLength="119.5" lengthAdjust="spacingAndGlyphs">August 21, 1987</text>
<text x="73.5" y="821.6" font-size="10.6" fill="#333" textLength="36.5" lengthAdjust="spacingAndGlyphs">250 Ed.</text>
</g>
<g id="logo" fill="none" stroke="#222" stroke-linecap="round" stroke-linejoin="round">
<circle cx="505.6" cy="805" r="22.3" stroke-width="1.0"/>
<circle cx="505.6" cy="805" r="20.9" stroke-width="0.6"/>
<circle cx="505.6" cy="805" r="17.6" stroke-width="0.9"/>
<path d="M494.31 789.47A19.2 19.2 0 0 1 516.89 789.47" stroke="#1a1a1a" stroke-width="1.05" stroke-dasharray="0.75 0.4" stroke-linecap="butt"/>
<path d="M520.31 817.34A19.2 19.2 0 0 1 490.89 817.34" stroke="#1a1a1a" stroke-width="1.05" stroke-dasharray="0.75 0.4" stroke-linecap="butt"/>
<path d="M502.6 813V810.8C502.6 808.8 498.3 807.6 498.3 803A7 7 0 1 1 512.3 803C512.3 807.6 508.0 808.8 508.0 810.8V813Z" stroke-width="0.9"/>
<path d="M502.7 814.1H507.90000000000003M502.7 815.7H507.90000000000003M502.90000000000003 817.2H507.7" stroke-width="1.2" stroke="#222"/>
<path d="M504.1 818.5H506.5" stroke-width="0.9"/>
<path d="M505.3 801.8V805" stroke-width="0.7"/>
<path d="M505.3 804.4L506.8 807.8L506.2 812.4H504.40000000000003L503.8 807.8Z" fill="#222" stroke-width="0.4"/>
<path d="M505.3 807V810.4" stroke="#fff" stroke-width="0.4"/>
<path d="M505.30 795.10L505.30 791.70M499.55 796.61L497.54 794.38M511.05 796.61L513.06 794.38M496.66 801.94L493.39 801.54M513.94 801.94L517.21 801.54M497.71 807.04L495.06 808.45M512.89 807.04L515.54 808.45" stroke-width="0.8"/>
</g>
</svg>
</body>
</html>
